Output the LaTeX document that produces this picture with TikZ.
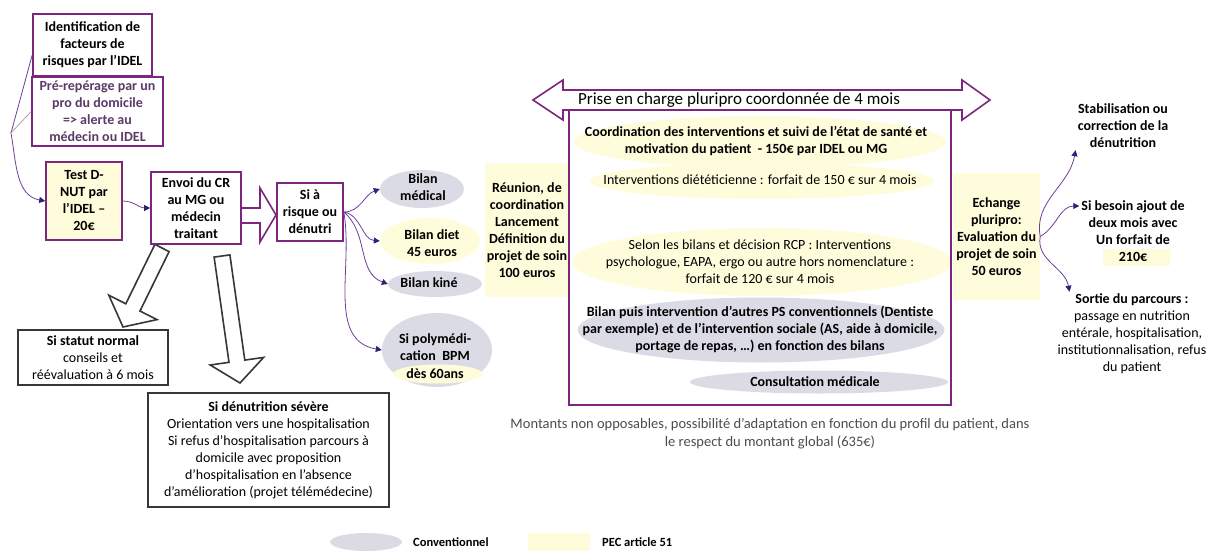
\documentclass[tikz,border=0pt]{standalone}
\usepackage{fontspec}
\setmainfont{Carlito}
\usetikzlibrary{arrows.meta,shapes.geometric}
\definecolor{purp}{RGB}{125,38,125}
\definecolor{lnpurp}{RGB}{112,62,150}
\definecolor{tipnavy}{RGB}{38,38,120}
\definecolor{convgray}{RGB}{219,219,229}
\definecolor{pecyel}{RGB}{255,252,220}
\definecolor{boxgray}{RGB}{55,55,55}
\definecolor{prtxt}{RGB}{92,58,104}
\tikzset{
  txt/.style={align=center,inner sep=2pt,font=\fontsize{14}{17}\selectfont},
  btxt/.style={txt,font=\fontsize{14}{17}\selectfont\bfseries},
  pbox/.style={btxt,draw=purp,line width=1.6pt,fill=white},
  gbox/.style={txt,draw=boxgray,line width=1.8pt,fill=white},
  conv/.style={ellipse,fill=convgray,inner sep=0pt},
  pecell/.style={ellipse,fill=pecyel,inner sep=0pt},
  pecrect/.style={fill=pecyel,inner sep=0pt},
  conn/.style={draw=lnpurp,line width=0.8pt,-{Triangle[length=6pt,width=6pt,color=tipnavy]}},
  hollow/.style={draw=boxgray,line width=1.6pt,fill=white,line join=miter},
}
\begin{document}
\begin{tikzpicture}[x=1pt,y=-1pt]
\useasboundingbox (0,0) rectangle (1212,551);

\draw[hollow] (154.9,244.4)--(125.8,303.8)--(108.8,295.2)--(123,327)--(157.0,319.6)--(140.0,311.0)--(169.1,251.6)--cycle;
\draw[hollow] (214.1,257.1)--(229.0,362.3)--(210.2,365.0)--(240,383)--(263.6,357.4)--(244.8,360.1)--(229.9,254.9)--cycle;
\draw[hollow,draw=purp] (236,208)--(260,208)--(260,188)--(276,215)--(260,242)--(260,223)--(236,223)--cycle;

\node[pbox,minimum width=119pt,minimum height=62pt] (ident) at (92.5,45) {Identification de\\facteurs de\\risques par l’IDEL};
\node[pbox,minimum width=131pt,minimum height=69pt,text=prtxt] (prerep) at (97.5,111.5) {Pré-repérage par un\\pro du domicile\\=> alerte au\\médecin ou IDEL};
\node[pbox,fill=pecyel,minimum width=76pt,minimum height=78pt] (dnut) at (84,201) {Test D-\\NUT par\\l’IDEL –\\20€};
\node[pbox,minimum width=90pt,minimum height=72pt] (envoi) at (196,208) {Envoi du CR\\au MG ou\\médecin\\traitant};
\node[pbox,minimum width=66pt,minimum height=58pt] (risque) at (310,212) {Si à\\risque ou\\dénutri};

\node[gbox,minimum width=150pt,minimum height=55pt] (statut) at (93,357.5) {\textbf{Si statut normal}\\conseils et\\réévaluation à 6 mois};
\node[gbox,minimum width=241pt,minimum height=114pt] (severe) at (268.5,450) {\textbf{Si dénutrition sévère}\\Orientation vers une hospitalisation\\Si refus d’hospitalisation parcours à\\domicile avec proposition\\d’hospitalisation en l’absence\\d’amélioration (projet télémédecine)};

\node[conv,minimum width=84pt,minimum height=38pt] (bmed) at (422,189) {};
\node[btxt] (bmedtxt) at (423,187) {Bilan\\médical};
\node[pecell,minimum width=100pt,minimum height=46pt] (bdiet) at (430,241) {};
\node[btxt] (bdiettxt) at (432,243) {Bilan diet\\45 euros};
\node[conv,minimum width=94pt,minimum height=26pt] (bkine) at (435,284) {};
\node[btxt] (bkinetxt) at (429,283) {Bilan kiné};
\node[conv,minimum width=110pt,minimum height=74pt] (bpoly) at (437,350) {};
\node[pecell,minimum width=90pt,minimum height=19pt] (bpolyage) at (438,374) {};
\node[btxt] (bpolytxt) at (435,347) {Si polymédi-\\cation\ \ BPM};
\node[btxt] (bpolyagetxt) at (435,374) {dès 60ans};

\node[pecrect,btxt,minimum width=85pt,minimum height=134pt] (reunion) at (527,230) {Réunion, de\\coordination\\Lancement\\Définition du\\projet de soin\\100 euros};

\node[pecell,minimum width=372pt,minimum height=52pt] (coordbg) at (760,142) {};
\node[pecell,minimum width=345pt,minimum height=36pt] (dietbg) at (762,181) {};
\node[pecell,minimum width=380pt,minimum height=68pt] (selonbg) at (762,262) {};
\node[conv,minimum width=367pt,minimum height=65pt] (bilanps) at (761,330) {};
\node[conv,minimum width=258pt,minimum height=23pt] (consult) at (819,382) {};
\node[draw=purp,line width=1.4pt,minimum width=382pt,minimum height=295pt,inner sep=0pt] (pecbox) at (760,257.5) {};
\node[btxt] (coord) at (756,141) {Coordination des interventions et suivi de l’état de santé et\\motivation du patient\ \ - 150€ par IDEL ou MG};
\node[txt] (diet) at (760,180) {Interventions diététicienne : forfait de 150 € sur 4 mois};
\node[txt] (selon) at (760,262) {Selon les bilans et décision RCP : Interventions\\psychologue, EAPA, ergo ou autre hors nomenclature :\\forfait de 120 € sur 4 mois};
\node[btxt] (bilanpstxt) at (760,329) {Bilan puis intervention d’autres PS conventionnels (Dentiste\\par exemple) et de l’intervention sociale (AS, aide à domicile,\\portage de repas, …) en fonction des bilans};
\node[btxt] (consulttxt) at (815,382) {Consultation médicale};

\draw[hollow,draw=purp] (533,100)--(563,80)--(563,90)--(962,90)--(962,80)--(990,100)--(962,120)--(962,110)--(563,110)--(563,120)--cycle;
\node[txt,font=\fontsize{17}{20}\selectfont] (duree) at (739,100) {Prise en charge pluripro coordonnée de 4 mois};

\node[pecrect,btxt,minimum width=87pt,minimum height=127pt] (echange) at (996.5,236.5) {Echange\\pluripro:\\Evaluation du\\projet de soin\\50 euros};

\node[btxt] (stab) at (1123,126) {Stabilisation ou\\correction de la\\dénutrition};
\node[pecrect,minimum width=67pt,minimum height=17pt] (forfait) at (1136,257) {};
\node[btxt] (besoin) at (1133,231) {Si besoin ajout de\\deux mois avec\\Un forfait de\\210€};
\node[txt] (sortie) at (1132,334) {\textbf{Sortie du parcours :}\\passage en nutrition\\entérale, hospitalisation,\\institutionnalisation, refus\\du patient};

\coordinate (join) at (11,133);
\draw[draw=lnpurp,line width=0.8pt] ([yshift=-10pt]ident.west) -- (join);
\draw[draw=gray!70,line width=0.8pt] (prerep.west) -- (join);
\draw[conn] (join) to[out=-80,in=170] (dnut.west);
\draw[conn] (dnut.east) to[out=0,in=180] (envoi.west);
\draw[conn] (risque.east) to[out=0,in=200] (bmed.west);
\draw[conn] (risque.east) to[out=-10,in=175] (bdiet.west);
\draw[conn] (risque.east) to[out=-40,in=160] (bkine.west);
\draw[conn] (risque.east) to[out=-80,in=170] (bpoly.west);
\draw[conn] (echange.east) to[out=100,in=-100] (stab.south west);
\draw[conn] (echange.east) to[out=30,in=180] ([yshift=25pt]besoin.west);
\draw[conn] (echange.east) to[out=-100,in=100] ([xshift=14pt]sortie.north west);

\node[txt,font=\fontsize{14.5}{18}\selectfont,text=black!70] (note) at (770,434) {Montants non opposables, possibilité d’adaptation en fonction du profil du patient, dans\\le respect du montant global (635€)};
\node[conv,minimum width=72pt,minimum height=18pt] (legconv) at (366,542) {};
\node[btxt,anchor=west,font=\fontsize{12.5}{15}\selectfont\bfseries] (legconvtxt) at (411,542) {Conventionnel};
\node[pecrect,minimum width=62pt,minimum height=18pt] (legpec) at (559,542) {};
\node[btxt,anchor=west,font=\fontsize{12.5}{15}\selectfont\bfseries] (legpectxt) at (600,542) {PEC article 51};
\end{tikzpicture}
\end{document}
